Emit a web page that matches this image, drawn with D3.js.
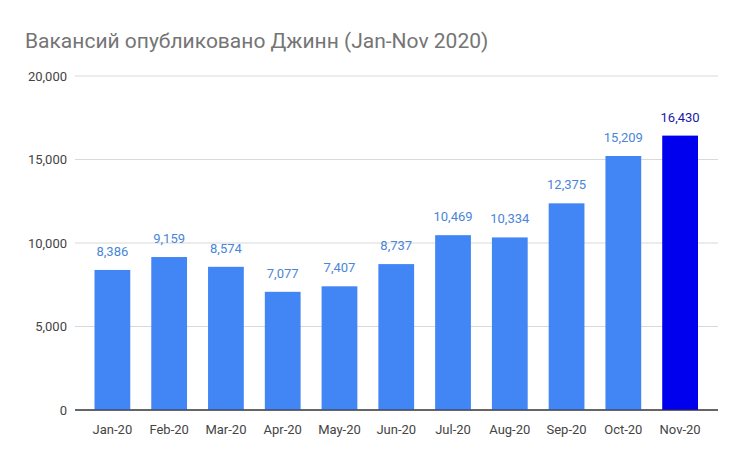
<!DOCTYPE html>
<html><head><meta charset="utf-8">
<script src="https://cdn.jsdelivr.net/npm/d3@7"></script>
<style>body{margin:0;background:#fff}</style></head>
<body><svg id="c" width="740" height="458"></svg>
<script>
const categories=["Jan-20","Feb-20","Mar-20","Apr-20","May-20","Jun-20","Jul-20","Aug-20","Sep-20","Oct-20","Nov-20"];
const values=[8386,9159,8574,7077,7407,8737,10469,10334,12375,15209,16430];
const yTicks=[0,5000,10000,15000,20000];
const svg=d3.select("#c");
const font="Roboto, 'Noto Sans', sans-serif";
const x=d3.scaleBand().domain(categories).range([84,708.5]).paddingInner(0.37).paddingOuter(0.185);
const y=d3.scaleLinear().domain([0,20000]).range([410,76]);
svg.append("text").attr("x",25).attr("y",48).attr("font-family",font).attr("font-size",21).attr("fill","#757575").text("Вакансий опубликовано Джинн (Jan-Nov 2020)");
const g=svg.append("g");
yTicks.forEach(t=>{
  g.append("line").attr("x1",75).attr("x2",718).attr("y1",y(t)).attr("y2",y(t)).attr("stroke",t===0?"#333":"#d9d9d9").attr("stroke-width",1);
  g.append("text").attr("x",67).attr("y",y(t)+4.5).attr("text-anchor","end").attr("font-family",font).attr("font-size",13).attr("fill","#444").text(d3.format(",")(t));
});
const last=categories.length-1;
g.selectAll("rect.b").data(values).join("rect").attr("x",(d,i)=>x(categories[i])).attr("width",x.bandwidth())
 .attr("y",d=>y(d)).attr("height",d=>y(0)-y(d)).attr("fill",(d,i)=>i===last?"#0000ee":"#4285f4");
g.selectAll("line.b").data(values).join("line");
svg.select("g").selectAll("line").filter((d,i,n)=>false);
g.append("line").attr("x1",75).attr("x2",718).attr("y1",y(0)).attr("y2",y(0)).attr("stroke","#333");
g.selectAll("text.v").data(values).join("text").attr("class","v").attr("x",(d,i)=>x(categories[i])+x.bandwidth()/2).attr("y",d=>y(d)-14)
 .attr("text-anchor","middle").attr("font-family",font).attr("font-size",13).attr("fill",(d,i)=>i===last?"#1a1aa6":"#4a86d8").text(d=>d3.format(",")(d));
g.selectAll("text.c").data(categories).join("text").attr("class","c").attr("x",d=>x(d)+x.bandwidth()/2).attr("y",434)
 .attr("text-anchor","middle").attr("font-family",font).attr("font-size",13).attr("fill","#444").text(d=>d);
</script></body></html>
